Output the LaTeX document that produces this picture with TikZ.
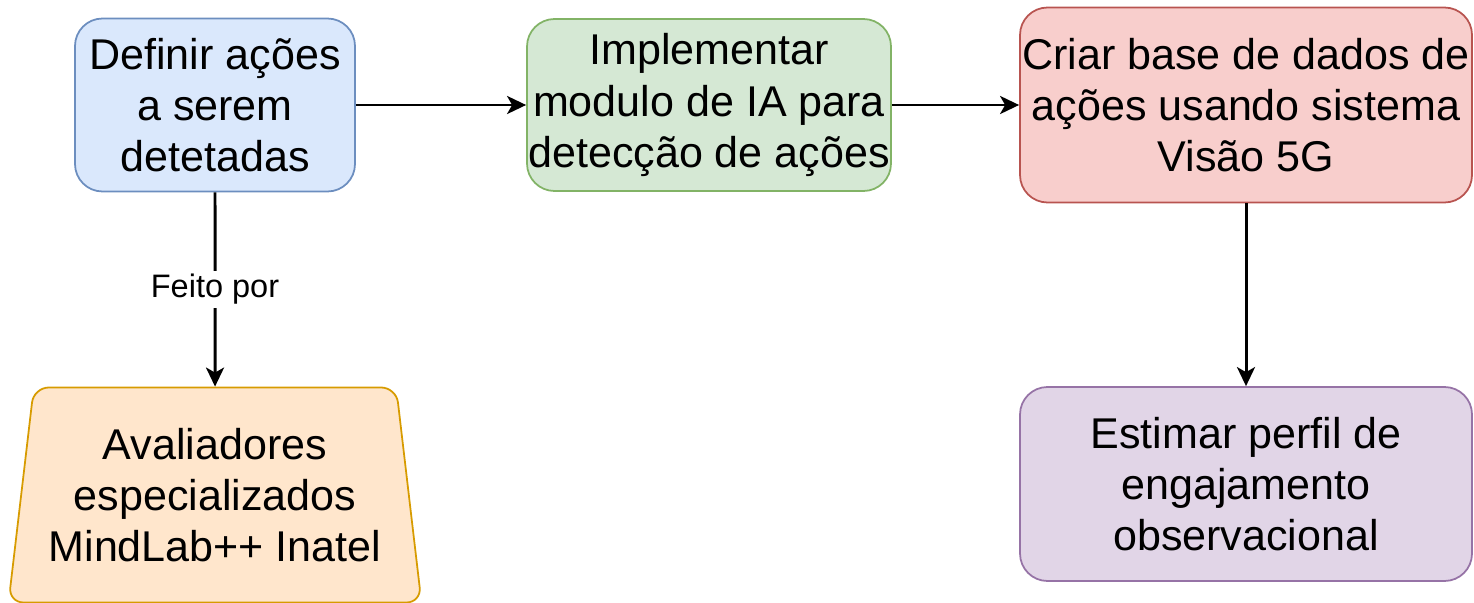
\documentclass[tikz,border=0pt]{standalone}
\usepackage{fontspec}
\setmainfont{Liberation Sans}
\usetikzlibrary{arrows.meta,shapes.geometric}
\definecolor{bluefill}{HTML}{DAE8FC}
\definecolor{blueline}{HTML}{6C8EBF}
\definecolor{greenfill}{HTML}{D5E8D4}
\definecolor{greenline}{HTML}{82B366}
\definecolor{redfill}{HTML}{F8CECC}
\definecolor{redline}{HTML}{B85450}
\definecolor{purplefill}{HTML}{E1D5E7}
\definecolor{purpleline}{HTML}{9673A6}
\definecolor{orangefill}{HTML}{FFE6CC}
\definecolor{orangeline}{HTML}{D79B00}
\begin{document}
\begin{tikzpicture}[
  box/.style={rounded corners=0.55cm, line width=1pt, align=center, inner sep=0pt,
    font=\fontsize{24.5}{29.2}\selectfont},
  link/.style={line width=1.7pt, -{Stealth[length=0.38cm, width=0.36cm, inset=0.1cm]}}]
\useasboundingbox (0,0) rectangle (29.48,-12.04);

\node[box, fill=bluefill, draw=blueline, minimum width=5.6cm, minimum height=3.46cm]
  (define) at (4.30,-2.10) {Definir ações\\a serem\\detetadas};
\node[box, fill=greenfill, draw=greenline, minimum width=7.28cm, minimum height=3.44cm]
  (module) at (14.18,-2.10) {Implementar\\modulo de IA para\\detecção de ações};
\node[box, fill=redfill, draw=redline, minimum width=9.04cm, minimum height=3.9cm]
  (dataset) at (24.92,-2.10) {Criar base de dados de\\ações usando sistema\\Visão 5G};
\node[box, fill=purplefill, draw=purpleline, minimum width=9.04cm, minimum height=3.88cm]
  (profile) at (24.92,-9.68) {Estimar perfil de\\engajamento\\observacional};
\node[box, trapezium, trapezium stretches=true, rounded corners=0.3cm,
  trapezium left angle=80.2, trapezium right angle=80.2,
  fill=orangefill, draw=orangeline, minimum width=8.28cm, minimum height=4.3cm]
  (raters) at (4.30,-9.90) {Avaliadores\\especializados\\MindLab++ Inatel};

\draw[link] (define) -- (module);
\draw[link] (module) -- (dataset);
\draw[link] (define.south) -- node[fill=white, inner sep=2pt, font=\fontsize{18.5}{22}\selectfont] {Feito por} (raters.north);
\draw[link] (dataset.south) -- (profile.north);
\end{tikzpicture}
\end{document}
